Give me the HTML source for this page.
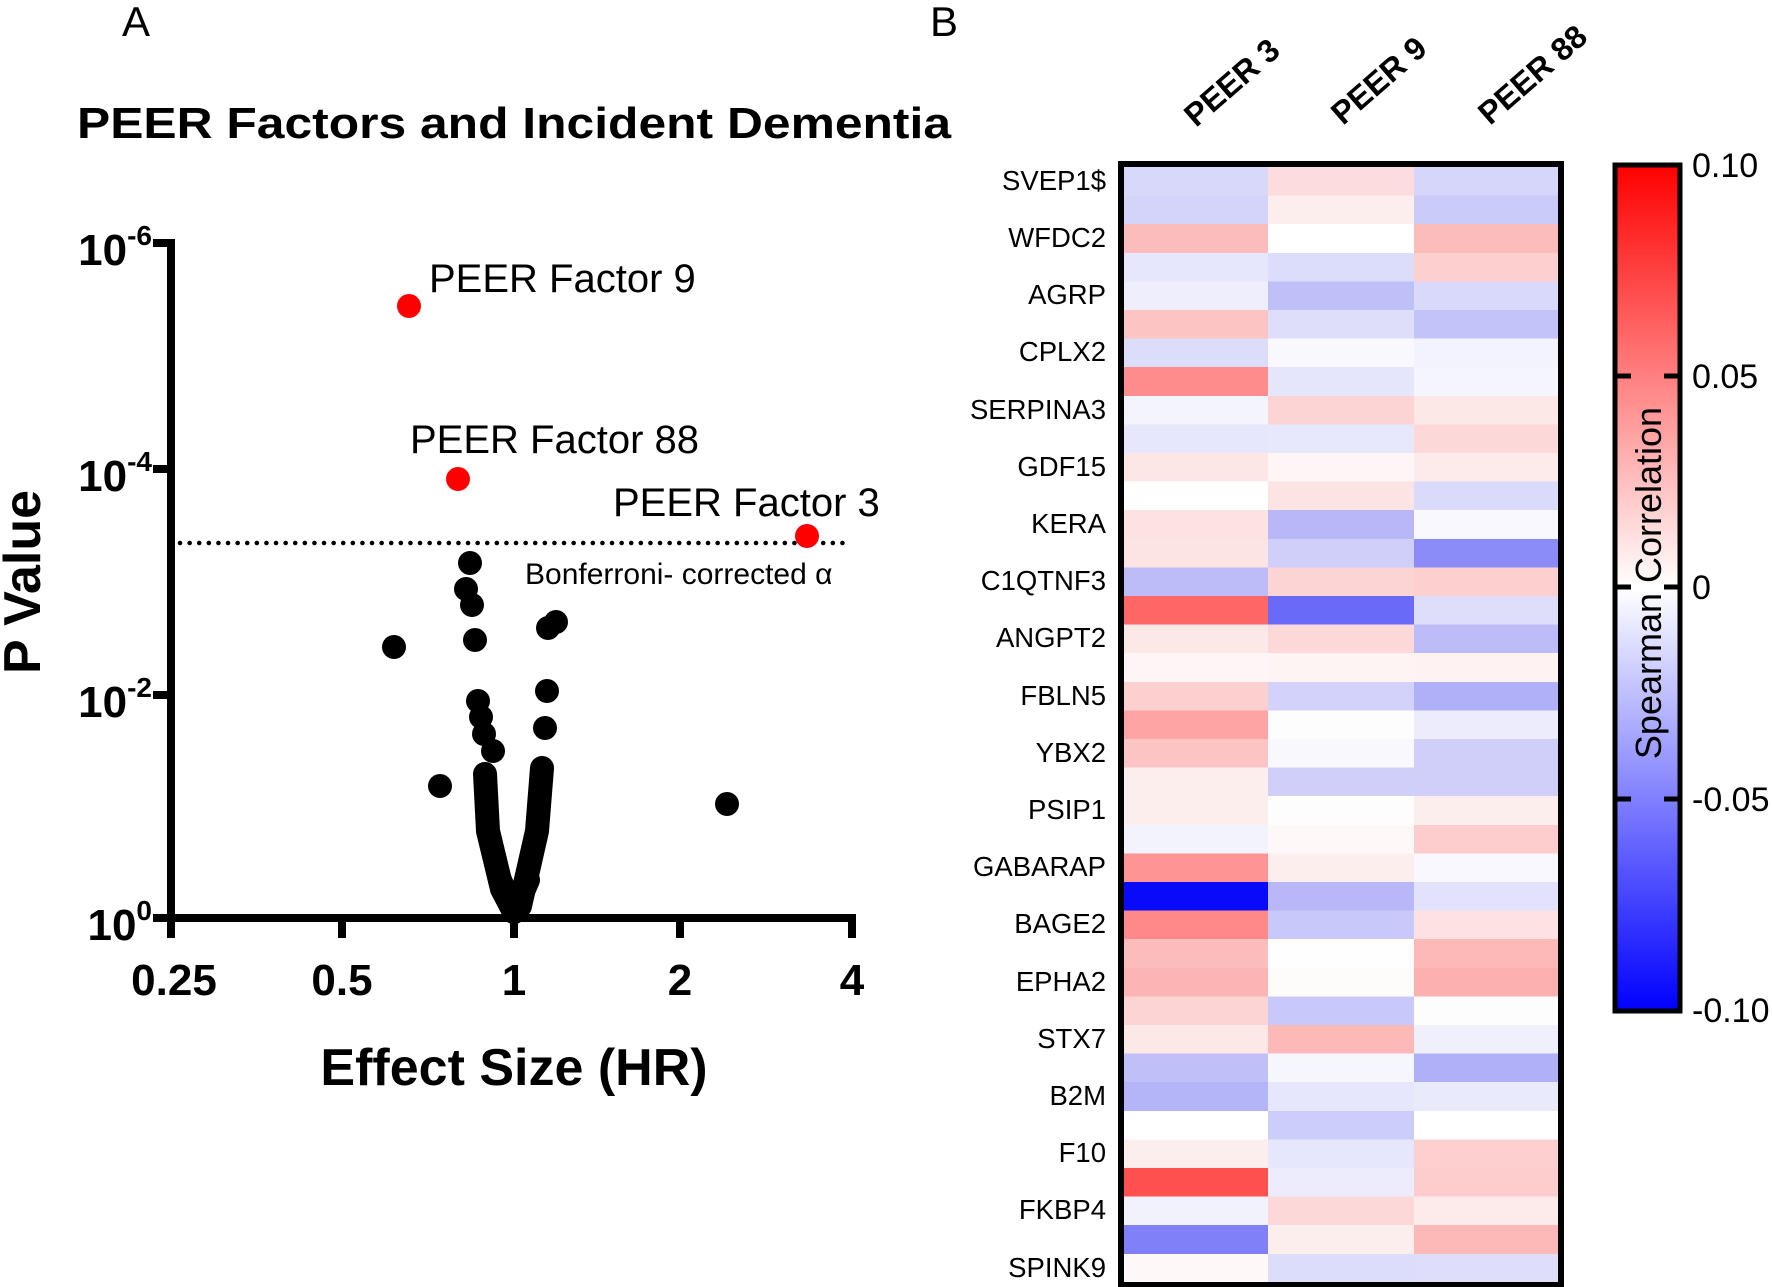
<!DOCTYPE html>
<html><head><meta charset="utf-8"><style>
html,body{margin:0;padding:0;background:#fff;}
svg{display:block;font-family:"Liberation Sans",Arial,sans-serif;}
</style></head><body>
<svg width="1772" height="1287" viewBox="0 0 1772 1287" xmlns="http://www.w3.org/2000/svg">
<defs>
<linearGradient id="cb" x1="0" y1="0" x2="0" y2="1">
<stop offset="0" stop-color="#ff0000"/>
<stop offset="0.5" stop-color="#ffffff"/>
<stop offset="1" stop-color="#0000ff"/>
</linearGradient>
</defs>
<text x="122" y="36" font-size="42">A</text>
<text x="930" y="36" font-size="42">B</text>
<text x="77" y="138" font-size="44" font-weight="bold" textLength="874" lengthAdjust="spacingAndGlyphs">PEER Factors and Incident Dementia</text>

<g stroke="#000" stroke-width="8" fill="none">
<line x1="171" y1="239" x2="171" y2="922"/>
<line x1="167" y1="918" x2="856" y2="918"/>
<line x1="153" y1="243" x2="171" y2="243"/>
<line x1="153" y1="469" x2="171" y2="469"/>
<line x1="153" y1="695" x2="171" y2="695"/>
<line x1="153" y1="918" x2="171" y2="918"/>
<line x1="171" y1="918" x2="171" y2="938"/>
<line x1="342" y1="918" x2="342" y2="938"/>
<line x1="514" y1="918" x2="514" y2="938"/>
<line x1="680" y1="918" x2="680" y2="938"/>
<line x1="852" y1="918" x2="852" y2="938"/>
</g>
<g font-size="44" font-weight="bold" text-anchor="end">
<text x="152" y="265">10<tspan font-size="28" dy="-20">-6</tspan></text>
<text x="152" y="491">10<tspan font-size="28" dy="-20">-4</tspan></text>
<text x="152" y="717">10<tspan font-size="28" dy="-20">-2</tspan></text>
<text x="152" y="940">10<tspan font-size="28" dy="-20">0</tspan></text>
</g>
<g font-size="44" font-weight="bold" text-anchor="middle">
<text x="174" y="995">0.25</text>
<text x="342" y="995">0.5</text>
<text x="514" y="995">1</text>
<text x="680" y="995">2</text>
<text x="852" y="995">4</text>
</g>
<text x="514" y="1085" font-size="52" font-weight="bold" text-anchor="middle">Effect Size (HR)</text>
<text transform="translate(40,582) rotate(-90)" font-size="52" font-weight="bold" text-anchor="middle">P Value</text>

<line x1="180" y1="543" x2="843" y2="543" stroke="#000" stroke-width="4.5" stroke-dasharray="0.1,9.5" stroke-linecap="round"/>
<text x="525" y="584" font-size="30">Bonferroni- corrected α</text>

<g fill="#000">
<circle cx="470" cy="563" r="12"/>
<circle cx="466" cy="589" r="12"/>
<circle cx="472" cy="605" r="12"/>
<circle cx="394" cy="647" r="12"/>
<circle cx="475" cy="640" r="12"/>
<circle cx="548" cy="628" r="12"/>
<circle cx="556" cy="622" r="12"/>
<circle cx="547" cy="691" r="12"/>
<circle cx="545" cy="728" r="12"/>
<circle cx="478" cy="701" r="12"/>
<circle cx="481" cy="717" r="12"/>
<circle cx="484" cy="734" r="12"/>
<circle cx="493" cy="751" r="12"/>
<circle cx="440" cy="786" r="12"/>
<circle cx="727" cy="804" r="12"/>
</g>
<g stroke="#000" stroke-width="24" stroke-linecap="round" stroke-linejoin="round" fill="none">
<polyline points="485,774 488,831 502,889 514,912"/>
<polyline points="542,768 537,831 520,906 514,912"/>
<polyline points="500,880 514,912 528,880"/>
</g>
<g fill="#f00">
<circle cx="409" cy="306" r="12"/>
<circle cx="458" cy="479" r="12"/>
<circle cx="807" cy="536" r="12"/>
</g>
<g font-size="40">
<text x="429" y="292">PEER Factor 9</text>
<text x="410" y="453">PEER Factor 88</text>
<text x="613" y="516">PEER Factor 3</text>
</g>

<g shape-rendering="crispEdges">
<rect x="1124" y="167.0" width="144" height="29" fill="#d8d8fb"/><rect x="1268" y="167.0" width="146" height="29" fill="#fcdcdc"/><rect x="1414" y="167.0" width="144" height="29" fill="#d6d6fb"/>
<rect x="1124" y="195.6" width="144" height="29" fill="#d4d4fb"/><rect x="1268" y="195.6" width="146" height="29" fill="#fdeeee"/><rect x="1414" y="195.6" width="144" height="29" fill="#cbcbfa"/>
<rect x="1124" y="224.2" width="144" height="29" fill="#fdbcbc"/><rect x="1268" y="224.2" width="146" height="29" fill="#ffffff"/><rect x="1414" y="224.2" width="144" height="29" fill="#fdbcbc"/>
<rect x="1124" y="252.8" width="144" height="29" fill="#e6e6fc"/><rect x="1268" y="252.8" width="146" height="29" fill="#dcdcfb"/><rect x="1414" y="252.8" width="144" height="29" fill="#fdd0d0"/>
<rect x="1124" y="281.4" width="144" height="29" fill="#eeeefd"/><rect x="1268" y="281.4" width="146" height="29" fill="#c0c0f8"/><rect x="1414" y="281.4" width="144" height="29" fill="#d9d9fb"/>
<rect x="1124" y="310.0" width="144" height="29" fill="#fdc4c4"/><rect x="1268" y="310.0" width="146" height="29" fill="#dedefb"/><rect x="1414" y="310.0" width="144" height="29" fill="#c3c3f9"/>
<rect x="1124" y="338.6" width="144" height="29" fill="#dcdcfb"/><rect x="1268" y="338.6" width="146" height="29" fill="#f8f8fe"/><rect x="1414" y="338.6" width="144" height="29" fill="#f3f3fd"/>
<rect x="1124" y="367.2" width="144" height="29" fill="#fe8c8c"/><rect x="1268" y="367.2" width="146" height="29" fill="#e5e5fc"/><rect x="1414" y="367.2" width="144" height="29" fill="#f5f5fe"/>
<rect x="1124" y="395.8" width="144" height="29" fill="#f4f4fe"/><rect x="1268" y="395.8" width="146" height="29" fill="#fdd4d4"/><rect x="1414" y="395.8" width="144" height="29" fill="#fde8e8"/>
<rect x="1124" y="424.4" width="144" height="29" fill="#e6e6fc"/><rect x="1268" y="424.4" width="146" height="29" fill="#e8e8fc"/><rect x="1414" y="424.4" width="144" height="29" fill="#fdd8d8"/>
<rect x="1124" y="453.0" width="144" height="29" fill="#fde6e6"/><rect x="1268" y="453.0" width="146" height="29" fill="#fef6f6"/><rect x="1414" y="453.0" width="144" height="29" fill="#fdeaea"/>
<rect x="1124" y="481.6" width="144" height="29" fill="#ffffff"/><rect x="1268" y="481.6" width="146" height="29" fill="#fde4e4"/><rect x="1414" y="481.6" width="144" height="29" fill="#dadafb"/>
<rect x="1124" y="510.2" width="144" height="29" fill="#fde2e2"/><rect x="1268" y="510.2" width="146" height="29" fill="#b8b8f8"/><rect x="1414" y="510.2" width="144" height="29" fill="#f8f8fe"/>
<rect x="1124" y="538.8" width="144" height="29" fill="#fde4e4"/><rect x="1268" y="538.8" width="146" height="29" fill="#cfcffa"/><rect x="1414" y="538.8" width="144" height="29" fill="#8c8cf9"/>
<rect x="1124" y="567.4" width="144" height="29" fill="#bcbcf8"/><rect x="1268" y="567.4" width="146" height="29" fill="#fdd4d4"/><rect x="1414" y="567.4" width="144" height="29" fill="#fdd0d0"/>
<rect x="1124" y="596.0" width="144" height="29" fill="#ff6666"/><rect x="1268" y="596.0" width="146" height="29" fill="#6a6af9"/><rect x="1414" y="596.0" width="144" height="29" fill="#dedefb"/>
<rect x="1124" y="624.6" width="144" height="29" fill="#fde8e8"/><rect x="1268" y="624.6" width="146" height="29" fill="#fdd8d8"/><rect x="1414" y="624.6" width="144" height="29" fill="#bcbcf8"/>
<rect x="1124" y="653.2" width="144" height="29" fill="#fef6f6"/><rect x="1268" y="653.2" width="146" height="29" fill="#fef4f4"/><rect x="1414" y="653.2" width="144" height="29" fill="#fef2f2"/>
<rect x="1124" y="681.8" width="144" height="29" fill="#fdd0d0"/><rect x="1268" y="681.8" width="146" height="29" fill="#d2d2fa"/><rect x="1414" y="681.8" width="144" height="29" fill="#b0b0f8"/>
<rect x="1124" y="710.4" width="144" height="29" fill="#fea4a4"/><rect x="1268" y="710.4" width="146" height="29" fill="#fdfdfe"/><rect x="1414" y="710.4" width="144" height="29" fill="#ececfd"/>
<rect x="1124" y="739.0" width="144" height="29" fill="#fdc4c4"/><rect x="1268" y="739.0" width="146" height="29" fill="#f8f8fe"/><rect x="1414" y="739.0" width="144" height="29" fill="#cfcffa"/>
<rect x="1124" y="767.6" width="144" height="29" fill="#fdeeee"/><rect x="1268" y="767.6" width="146" height="29" fill="#cfcffa"/><rect x="1414" y="767.6" width="144" height="29" fill="#cfcffa"/>
<rect x="1124" y="796.2" width="144" height="29" fill="#fdeeee"/><rect x="1268" y="796.2" width="146" height="29" fill="#fdfdfd"/><rect x="1414" y="796.2" width="144" height="29" fill="#fdeeee"/>
<rect x="1124" y="824.8" width="144" height="29" fill="#f3f3fd"/><rect x="1268" y="824.8" width="146" height="29" fill="#fef8f8"/><rect x="1414" y="824.8" width="144" height="29" fill="#fdcccc"/>
<rect x="1124" y="853.4" width="144" height="29" fill="#fe9494"/><rect x="1268" y="853.4" width="146" height="29" fill="#fdeeee"/><rect x="1414" y="853.4" width="144" height="29" fill="#f8f8fe"/>
<rect x="1124" y="882.0" width="144" height="29" fill="#0a0afa"/><rect x="1268" y="882.0" width="146" height="29" fill="#b8b8f8"/><rect x="1414" y="882.0" width="144" height="29" fill="#e2e2fc"/>
<rect x="1124" y="910.6" width="144" height="29" fill="#ff8888"/><rect x="1268" y="910.6" width="146" height="29" fill="#c8c8fa"/><rect x="1414" y="910.6" width="144" height="29" fill="#fde2e2"/>
<rect x="1124" y="939.2" width="144" height="29" fill="#fdbcbc"/><rect x="1268" y="939.2" width="146" height="29" fill="#fefefe"/><rect x="1414" y="939.2" width="144" height="29" fill="#fdb8b8"/>
<rect x="1124" y="967.8" width="144" height="29" fill="#fdb4b4"/><rect x="1268" y="967.8" width="146" height="29" fill="#fefcfa"/><rect x="1414" y="967.8" width="144" height="29" fill="#fdb0b0"/>
<rect x="1124" y="996.4" width="144" height="29" fill="#fdd4d4"/><rect x="1268" y="996.4" width="146" height="29" fill="#c8c8fa"/><rect x="1414" y="996.4" width="144" height="29" fill="#fdfdfe"/>
<rect x="1124" y="1025.0" width="144" height="29" fill="#fde8e8"/><rect x="1268" y="1025.0" width="146" height="29" fill="#fdb8b8"/><rect x="1414" y="1025.0" width="144" height="29" fill="#f0f0fd"/>
<rect x="1124" y="1053.6" width="144" height="29" fill="#c0c0f8"/><rect x="1268" y="1053.6" width="146" height="29" fill="#f6f6fe"/><rect x="1414" y="1053.6" width="144" height="29" fill="#b0b0f8"/>
<rect x="1124" y="1082.2" width="144" height="29" fill="#b4b4f8"/><rect x="1268" y="1082.2" width="146" height="29" fill="#e6e6fc"/><rect x="1414" y="1082.2" width="144" height="29" fill="#eaeafd"/>
<rect x="1124" y="1110.8" width="144" height="29" fill="#ffffff"/><rect x="1268" y="1110.8" width="146" height="29" fill="#cdcdfa"/><rect x="1414" y="1110.8" width="144" height="29" fill="#ffffff"/>
<rect x="1124" y="1139.4" width="144" height="29" fill="#fdeeee"/><rect x="1268" y="1139.4" width="146" height="29" fill="#e6e6fc"/><rect x="1414" y="1139.4" width="144" height="29" fill="#fdd0d0"/>
<rect x="1124" y="1168.0" width="144" height="29" fill="#ff5050"/><rect x="1268" y="1168.0" width="146" height="29" fill="#ececfd"/><rect x="1414" y="1168.0" width="144" height="29" fill="#fdcccc"/>
<rect x="1124" y="1196.6" width="144" height="29" fill="#f2f2fd"/><rect x="1268" y="1196.6" width="146" height="29" fill="#fdd8d8"/><rect x="1414" y="1196.6" width="144" height="29" fill="#fdeaea"/>
<rect x="1124" y="1225.2" width="144" height="29" fill="#8080f9"/><rect x="1268" y="1225.2" width="146" height="29" fill="#fdeeee"/><rect x="1414" y="1225.2" width="144" height="29" fill="#fdb8b8"/>
<rect x="1124" y="1253.8" width="144" height="28.2" fill="#fef8f8"/><rect x="1268" y="1253.8" width="146" height="28.2" fill="#dcdcfb"/><rect x="1414" y="1253.8" width="144" height="28.2" fill="#dedefb"/>
</g>
<rect x="1121" y="164" width="440" height="1121" fill="none" stroke="#000" stroke-width="6"/>

<g font-size="27.5" text-anchor="end">
<text x="1106" y="190">SVEP1$</text>
<text x="1106" y="247">WFDC2</text>
<text x="1106" y="304">AGRP</text>
<text x="1106" y="361">CPLX2</text>
<text x="1106" y="419">SERPINA3</text>
<text x="1106" y="476">GDF15</text>
<text x="1106" y="533">KERA</text>
<text x="1106" y="590">C1QTNF3</text>
<text x="1106" y="647">ANGPT2</text>
<text x="1106" y="705">FBLN5</text>
<text x="1106" y="762">YBX2</text>
<text x="1106" y="819">PSIP1</text>
<text x="1106" y="876">GABARAP</text>
<text x="1106" y="933">BAGE2</text>
<text x="1106" y="991">EPHA2</text>
<text x="1106" y="1048">STX7</text>
<text x="1106" y="1105">B2M</text>
<text x="1106" y="1162">F10</text>
<text x="1106" y="1219">FKBP4</text>
<text x="1106" y="1277">SPINK9</text>
</g>
<g font-size="32" font-weight="bold">
<text transform="translate(1196,128) rotate(-41)">PEER 3</text>
<text transform="translate(1343,126) rotate(-41)">PEER 9</text>
<text transform="translate(1490,126) rotate(-41)">PEER 88</text>
</g>

<rect x="1615" y="165" width="65" height="846" fill="url(#cb)" stroke="#000" stroke-width="5"/>
<g stroke="#000" stroke-width="5">
<line x1="1617" y1="376" x2="1631" y2="376"/><line x1="1664" y1="376" x2="1678" y2="376"/>
<line x1="1617" y1="587" x2="1631" y2="587"/><line x1="1664" y1="587" x2="1678" y2="587"/>
<line x1="1617" y1="799" x2="1631" y2="799"/><line x1="1664" y1="799" x2="1678" y2="799"/>
</g>
<g font-size="34">
<text x="1692" y="177">0.10</text>
<text x="1692" y="388">0.05</text>
<text x="1692" y="599">0</text>
<text x="1692" y="811">-0.05</text>
<text x="1692" y="1022">-0.10</text>
</g>
<text transform="translate(1661,583) rotate(-90)" font-size="36" text-anchor="middle">Spearman Correlation</text>
</svg>
</body></html>
